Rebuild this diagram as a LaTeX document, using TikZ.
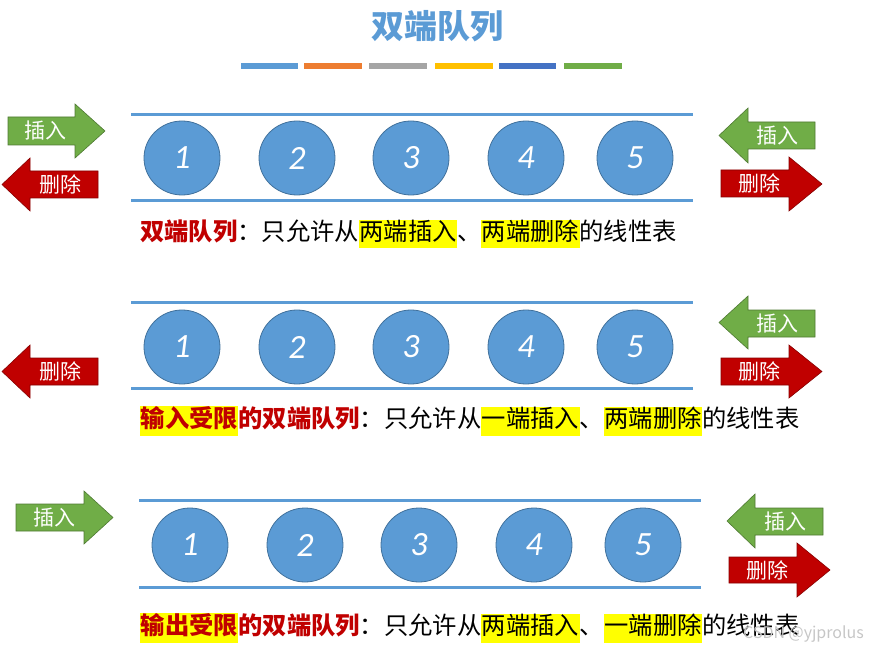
\documentclass[tikz,border=0pt]{standalone}
\usepackage{fontspec}
\setmainfont{Noto Sans CJK SC}
\newfontfamily\numfont{Carlito}
\usetikzlibrary{shapes.geometric}
\definecolor{qblue}{HTML}{5B9BD5}
\definecolor{qborder}{HTML}{41719C}
\definecolor{qgreen}{HTML}{70AD47}
\definecolor{qred}{HTML}{C00000}
\definecolor{qorange}{HTML}{ED7D31}
\definecolor{qgray}{HTML}{A5A5A5}
\definecolor{qyellow}{HTML}{FFC000}
\definecolor{qdblue}{HTML}{4472C4}
\definecolor{hl}{HTML}{FFFF00}
\newcommand\myArrR[9]{%
  \filldraw[fill=#8,draw=#8!70!black,line width=0.6pt] (#1,#4)--(#2,#4)--(#2,#6)--(#3,{(#6+#7)/2})--(#2,#7)--(#2,#5)--(#1,#5)--cycle;
  \node[lab] at ({(#1+#2)/2+4},{(#4+#5)/2}) {#9};}
\newcommand\myArrL[9]{%
  \filldraw[fill=#8,draw=#8!70!black,line width=0.6pt] (#1,#4)--(#2,#4)--(#2,#6)--(#3,{(#6+#7)/2})--(#2,#7)--(#2,#5)--(#1,#5)--cycle;
  \node[lab] at ({(#1+#2)/2-4},{(#4+#5)/2}) {#9};}
\newcommand\hlt[1]{{\setlength\fboxsep{0.5pt}\colorbox{hl}{\strut #1}}}
\begin{document}
\begin{tikzpicture}[x=1pt,y=-1pt,
  lab/.style={text=white,font=\fontsize{21}{21}\selectfont,inner sep=0pt},
  ball/.style={ellipse,fill=qblue,draw=qborder,line width=0.8pt,minimum width=76pt,minimum height=74pt,text=white,font=\numfont\itshape\fontsize{34}{34}\selectfont,inner sep=0pt},
  rail/.style={qblue,line width=3pt},
  desc/.style={anchor=west,inner sep=0pt,font=\fontsize{24.3}{24.3}\selectfont},
  bar/.style={line width=6pt}]
\useasboundingbox (0,0) rectangle (878,655);
\node[text=qblue,font=\bfseries\fontsize{33}{33}\selectfont] (title) at (437,26) {双端队列};
\foreach \a/\b/\c in {241/298/qblue,304/362/qorange,369/427/qgray,435/493/qyellow,499/556/qdblue,564/622/qgreen}
  \draw[bar,\c] (\a,66)--(\b,66);
% row 1
\draw[rail] (131,115)--(693,115);
\draw[rail] (131,201)--(693,201);
\foreach \x/\n in {182/1,297/2,411/3,526/4,635/5} \node[ball] (a\n) at (\x,158) {\n};
\myArrR{8}{75}{105}{117}{145}{104}{158}{qgreen}{插入}
\myArrL{98}{30}{2}{171}{198}{158}{211}{qred}{删除}
\myArrL{815}{748}{719}{122}{149}{108}{163}{qgreen}{插入}
\myArrR{721}{789}{822}{170}{197}{157}{211}{qred}{删除}
\node[desc] (t1) at (140,234) {\textcolor{qred}{\bfseries 双端队列}：只允许从\hlt{两端插入}、\hlt{两端删除}的线性表};
% row 2
\draw[rail] (131,302)--(693,302);
\draw[rail] (131,388)--(693,388);
\foreach \x/\n in {182/1,297/2,411/3,526/4,635/5} \node[ball] (b\n) at (\x,347) {\n};
\myArrL{98}{30}{2}{358}{385}{345}{398}{qred}{删除}
\myArrL{815}{748}{719}{310}{337}{296}{349}{qgreen}{插入}
\myArrR{721}{789}{822}{358}{385}{345}{398}{qred}{删除}
\node[desc] (t2) at (140,421) {\hlt{\textcolor{qred}{\bfseries 输入受限}}\textcolor{qred}{\bfseries 的双端队列}：只允许从\hlt{一端插入}、\hlt{两端删除}的线性表};
% row 3
\draw[rail] (139,500)--(701,500);
\draw[rail] (139,587)--(701,587);
\foreach \x/\n in {190/1,305/2,419/3,534/4,643/5} \node[ball] (c\n) at (\x,545) {\n};
\myArrR{16}{84}{113}{504}{531}{491}{544}{qgreen}{插入}
\myArrL{823}{755}{727}{508}{535}{494}{548}{qgreen}{插入}
\myArrR{729}{797}{830}{557}{583}{543}{597}{qred}{删除}
\node[desc] (t3) at (140,628) {\hlt{\textcolor{qred}{\bfseries 输出受限}}\textcolor{qred}{\bfseries 的双端队列}：只允许从\hlt{两端插入}、\hlt{一端删除}的线性表};
\node[anchor=east,text=gray!45,font=\fontsize{16}{16}\selectfont,inner sep=0pt] (wm) at (864,634) {CSDN @yjprolus};
\end{tikzpicture}
\end{document}
